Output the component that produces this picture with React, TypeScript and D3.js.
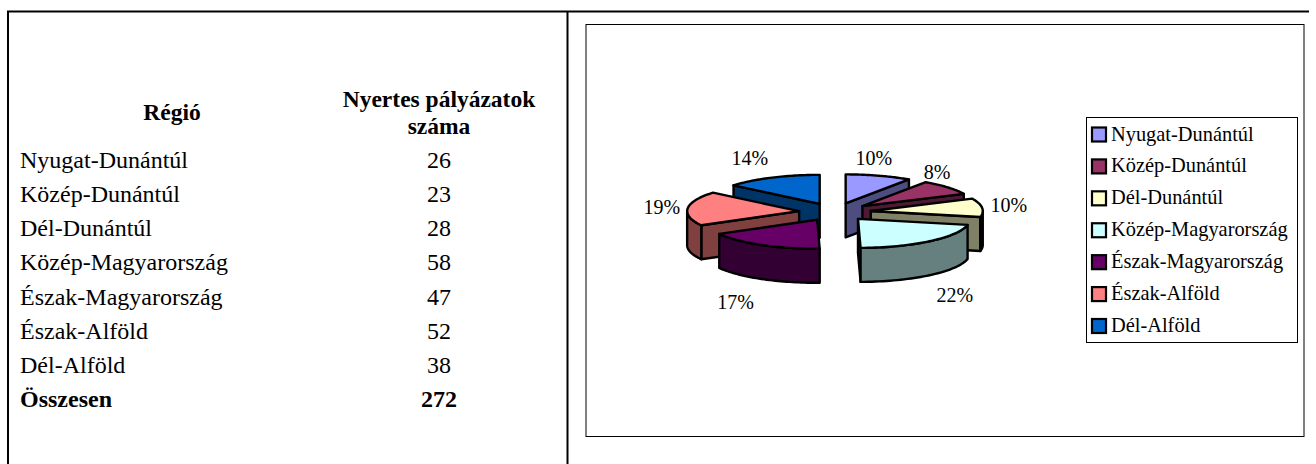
import React from "react";
import * as d3 from "d3";

const regions = ["Nyugat-Dunántúl", "Közép-Dunántúl", "Dél-Dunántúl", "Közép-Magyarország", "Észak-Magyarország", "Észak-Alföld", "Dél-Alföld"];
const counts = [26, 23, 28, 58, 47, 52, 38];
const percentLabels = ["10%", "8%", "10%", "22%", "17%", "19%", "14%"];
const topColors = ["#9999FF", "#993366", "#FFFFCC", "#CCFFFF", "#660066", "#FF8080", "#0066CC"];
const sideColors = ["#4D4D80", "#4D1A33", "#808066", "#668080", "#330033", "#804040", "#003366"];
const totalLabel = "Összesen";
const totalValue = 272;

const FONT = "'Liberation Serif', 'Times New Roman', serif";
const cx = 835, cy = 212, rx = 112, ry = 29, depth = 34, explode = 36;
const labelNudge = [[-12, 3], [-29, -1], [3, 0], [10, 3], [-14, 4], [-2, 1], [-12, 0]];

const rowY = d3.scaleLinear().domain([0, 7]).range([160, 399]);

export default function App() {
  const pie = d3.pie<number>().sort(null).value((d) => d);
  const arcs = pie(counts);
  const slices = arcs.map((a, i) => {
    const mid = (a.startAngle + a.endAngle) / 2;
    const ax = cx + explode * Math.sin(mid);
    const ay = cy - explode * 0.25 * Math.cos(mid);
    const pt = (t: number, dz = 0): [number, number] => [ax + rx * Math.sin(t), ay - ry * Math.cos(t) + dz];
    const sample = (t0: number, t1: number, dz = 0) =>
      d3.range(0, 41).map((k) => pt(t0 + ((t1 - t0) * k) / 40, dz));
    const line = d3.line();
    const top = line([[ax, ay], ...sample(a.startAngle, a.endAngle)])! + "Z";
    const walls: string[] = [];
    const radial = (t: number) =>
      line([[ax, ay], pt(t), pt(t, depth), [ax, ay + depth]])! + "Z";
    if (Math.sin(a.endAngle) > 0) walls.push(radial(a.endAngle));
    if (Math.sin(a.startAngle) < 0) walls.push(radial(a.startAngle));
    const o0 = Math.max(a.startAngle, Math.PI / 2);
    const o1 = Math.min(a.endAngle, (3 * Math.PI) / 2);
    if (o1 > o0) walls.push(line([...sample(o0, o1), ...sample(o0, o1, depth).reverse()])! + "Z");
    const lower = Math.cos(mid) < 0 ? depth : 0;
    const lx = ax + rx * Math.sin(mid) + 24 * Math.sin(mid) + labelNudge[i][0];
    const ly = ay - ry * Math.cos(mid) + lower - 22 * Math.cos(mid) + labelNudge[i][1];
    return { i, mid, top, walls, lx, ly, sortY: ay - ry * Math.cos(mid) };
  });
  const order = [...slices].sort((p, q) => p.sortY - q.sortY);
  const legendY = d3.scaleLinear().domain([0, 6]).range([134.5, 326]);

  return (
    <svg width={1316} height={464} style={{ position: "absolute", left: 0, top: 0, background: "#fff" }} fontFamily={FONT} fill="#000">
      <path d="M8 464V11.5H1309M567.5 11.5V464" fill="none" stroke="#000" strokeWidth={2} />
      <rect x={586} y={24.5} width={718} height={412} fill="#fff" stroke="#000" strokeWidth={1} />

      <text x={172} y={120} textAnchor="middle" fontWeight="bold" fontSize={23.5}>Régió</text>
      <text x={439} y={107} textAnchor="middle" fontWeight="bold" fontSize={23.5}>Nyertes pályázatok</text>
      <text x={439} y={134} textAnchor="middle" fontWeight="bold" fontSize={23.5}>száma</text>
      {regions.map((r, i) => (
        <g key={r} fontSize={24}>
          <text x={20} y={rowY(i) + 8}>{r}</text>
          <text x={439} y={rowY(i) + 8} textAnchor="middle">{counts[i]}</text>
        </g>
      ))}
      <text x={20} y={rowY(7) + 8} fontWeight="bold" fontSize={24}>{totalLabel}</text>
      <text x={439} y={rowY(7) + 8} textAnchor="middle" fontWeight="bold" fontSize={24}>{totalValue}</text>

      {order.map((s) => (
        <g key={s.i} stroke="#000" strokeWidth={2.4} strokeLinejoin="round">
          {s.walls.map((w, k) => <path key={k} d={w} fill={sideColors[s.i]} />)}
          <path d={s.top} fill={topColors[s.i]} />
        </g>
      ))}
      {slices.map((s) => (
        <text key={s.i} x={s.lx} y={s.ly + 7} textAnchor="middle" fontSize={20}>{percentLabels[s.i]}</text>
      ))}

      <rect x={1086.5} y={117.5} width={211} height={225} fill="#fff" stroke="#000" strokeWidth={1} />
      {regions.map((r, i) => (
        <g key={r}>
          <rect x={1092} y={legendY(i) - 7} width={14} height={14} fill={topColors[i]} stroke="#000" strokeWidth={2.2} />
          <text x={1111} y={legendY(i) + 6} fontSize={20.4}>{r}</text>
        </g>
      ))}
    </svg>
  );
}
